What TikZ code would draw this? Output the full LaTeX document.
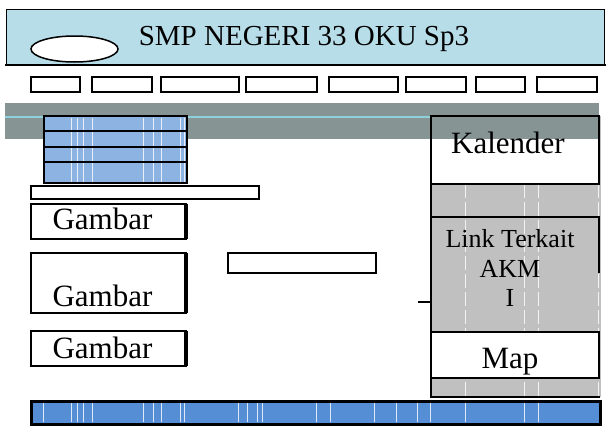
\documentclass[tikz,border=0pt]{standalone}
\usepackage{fontspec}
\setmainfont{Liberation Serif}
\definecolor{headblue}{HTML}{B7DDE8}
\definecolor{bandgray}{HTML}{879494}
\definecolor{bandline}{HTML}{8ED1DD}
\definecolor{slideblue}{HTML}{8DB3E2}
\definecolor{footblue}{HTML}{558ED5}
\definecolor{sidegray}{HTML}{C0C0C0}
\tikzset{
	box/.style={draw=black,line width=2.4pt},
	lbl/.style={inner sep=0pt,anchor=base,font=\fontsize{31}{31}\selectfont},
	small/.style={inner sep=0pt,anchor=base,font=\fontsize{26}{26}\selectfont},
	streak/.style={white,line width=0.6pt,opacity=0.8}
}
\begin{document}
\begin{tikzpicture}[x=1pt,y=-1pt]
			\useasboundingbox (0,0) rectangle (606,426);
			
			\fill[headblue] (6,9) rectangle (604,64);
			\draw[line width=1pt] (6,64) -- (6,9) -- (604,9) -- (604,64);
			\draw[line width=2pt] (5,65) -- (606,65);
			\draw[line width=1.5pt,fill=white] (74.5,49) ellipse (43.5 and 13);
			\node[inner sep=0pt,anchor=base,font=\fontsize{29}{29}\selectfont] (title) at (304,45) {SMP NEGERI 33 OKU Sp3};
			
			\foreach \a/\b in {31/80,92/152,161/239,246/317,329/398,406/466,476/525,537/597}
				\draw[box] (\a,77) rectangle (\b,92);
			
			\fill[sidegray] (431,116) rectangle (601,397);
			\foreach \x in {465,524,538,598}
				\draw[streak,dash pattern=on 14pt off 4pt] (\x,184) -- (\x,397);
			\fill[white] (431,116) rectangle (599,184);
			\fill[white] (431,332) rectangle (599,378);
			
			\fill[bandgray] (5,103) rectangle (599,139);
			\draw[bandline,line width=2pt] (5,117) -- (431,117);
			
			\draw[box,line width=2.6pt] (431,116) -- (431,397) -- (600,397);
			\draw[box] (431,116) rectangle (599,184);
			\node[lbl] (kalender) at (508,153) {Kalender};
			\draw[box] (431,217) -- (599,217) -- (599,273);
			\node[small] (link) at (510,247) {Link Terkait};
			\node[small] (akm) at (510,277) {AKM};
			\node[small] (akm2) at (510,306) {I};
			\draw[line width=1.5pt] (418,302) -- (431,302);
			\draw[box] (431,332) rectangle (599,378);
			\node[lbl] (map) at (510,368) {Map};
			
			\fill[slideblue] (44,116) rectangle (187,183);
			\foreach \x in {71,77,83,92,143,153,161,180,184}
				\draw[streak] (\x,118) -- (\x,182);
			\draw[box] (44,116) rectangle (187,183);
			\foreach \y in {131,147,162}
				\draw[box] (44,\y) -- (187,\y);
			
			\draw[box] (31,186) rectangle (259,199);
			
			\draw[box] (31,204) rectangle (186,239);
			\draw[line width=3.5pt] (186,204) -- (186,239);
			\node[lbl] (gambar1) at (102.5,229) {Gambar};
			\draw[box] (31,253) rectangle (186,313);
			\draw[line width=3.5pt] (186,253) -- (186,313);
			\node[lbl] (gambar2) at (102.5,306) {Gambar};
			\draw[box] (31,331) rectangle (186,366);
			\draw[line width=3.5pt] (186,331) -- (186,366);
			\node[lbl] (gambar3) at (102.5,358) {Gambar};
			
			\draw[box] (228,253) rectangle (376,273);
			
			\fill[footblue] (31,401) rectangle (600,424);
			\foreach \x in {43,71,77,83,92,143,153,161,180,184,238,247,257,262,316,330,374,396,417,430,465,524,538}
				\draw[streak] (\x,403) -- (\x,422);
			\draw[box,line width=3pt] (31,401) rectangle (600,424);
		\end{tikzpicture}
\end{document}
